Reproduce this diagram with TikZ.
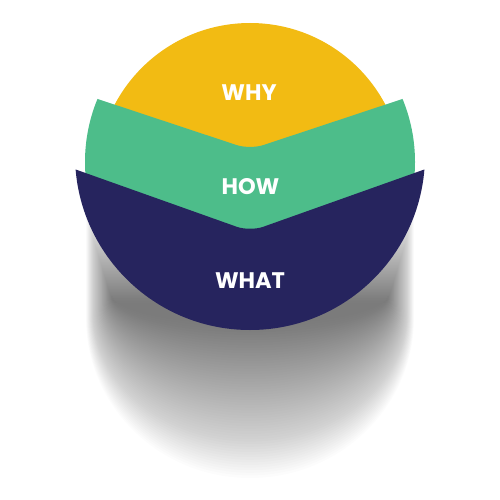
\documentclass[tikz,border=0pt]{standalone}
\usepackage{fontspec}
\setmainfont{Poppins}
\definecolor{cyellow}{HTML}{F2BB13}
\definecolor{cgreen}{HTML}{4DBD8A}
\definecolor{cnavy}{HTML}{26245E}
\begin{document}
\begin{tikzpicture}[x=1pt,y=-1pt,
  lbl/.style={text=white,font=\bfseries\fontsize{22.5}{22.5}\selectfont,inner sep=0pt,anchor=center},
  shadowlayer/.style={fill=black,opacity=0.0125}]
\useasboundingbox (0,0) rectangle (500,500);
% blurred shadow below the disc: stacked translucent layers
\foreach \i in {0,...,59}{
  \pgfmathsetmacro{\L}{86+0.45*\i}
  \pgfmathsetmacro{\R}{414-0.45*\i}
  \pgfmathsetmacro{\B}{478-2.6*\i}
  \pgfmathsetmacro{\T}{214+1.5*\i}
  \pgfmathsetmacro{\rx}{(\R-\L)/2}
  \pgfmathsetmacro{\ry}{(\B-290)*0.85}
  \pgfmathsetmacro{\Yc}{\B-\ry}
  \pgfmathsetmacro{\cyA}{\Yc+0.552*\ry}
  \pgfmathsetmacro{\cxA}{250-0.552*\rx}
  \pgfmathsetmacro{\cxB}{250+0.552*\rx}
  \fill[shadowlayer] (\L,\T) -- (\L,\Yc) .. controls (\L,\cyA) and (\cxA,\B) .. (250,\B)
     .. controls (\cxB,\B) and (\R,\cyA) .. (\R,\Yc) -- (\R,\T) -- cycle;
}
% WHY band
\fill[cyellow] (250,176) circle[radius=153pt];
% HOW band
\begin{scope}
  \clip[rounded corners=14pt] (40,79.9) -- (250,149.5) -- (460,79.9) -- (460,430) -- (40,430) -- cycle;
  \fill[cgreen] (250,162) circle[radius=165pt];
\end{scope}
% WHAT band
\begin{scope}
  \clip[rounded corners=14pt] (40,156.8) -- (250,231.5) -- (460,156.8) -- (460,480) -- (40,480) -- cycle;
  \fill[cnavy] (250,155) circle[radius=175pt];
\end{scope}
\node[lbl] (why) at (249,93) {WHY};
\node[lbl] (how) at (250.5,186.7) {HOW};
\node[lbl] (what) at (250,280.7) {WHAT};
\end{tikzpicture}
\end{document}
